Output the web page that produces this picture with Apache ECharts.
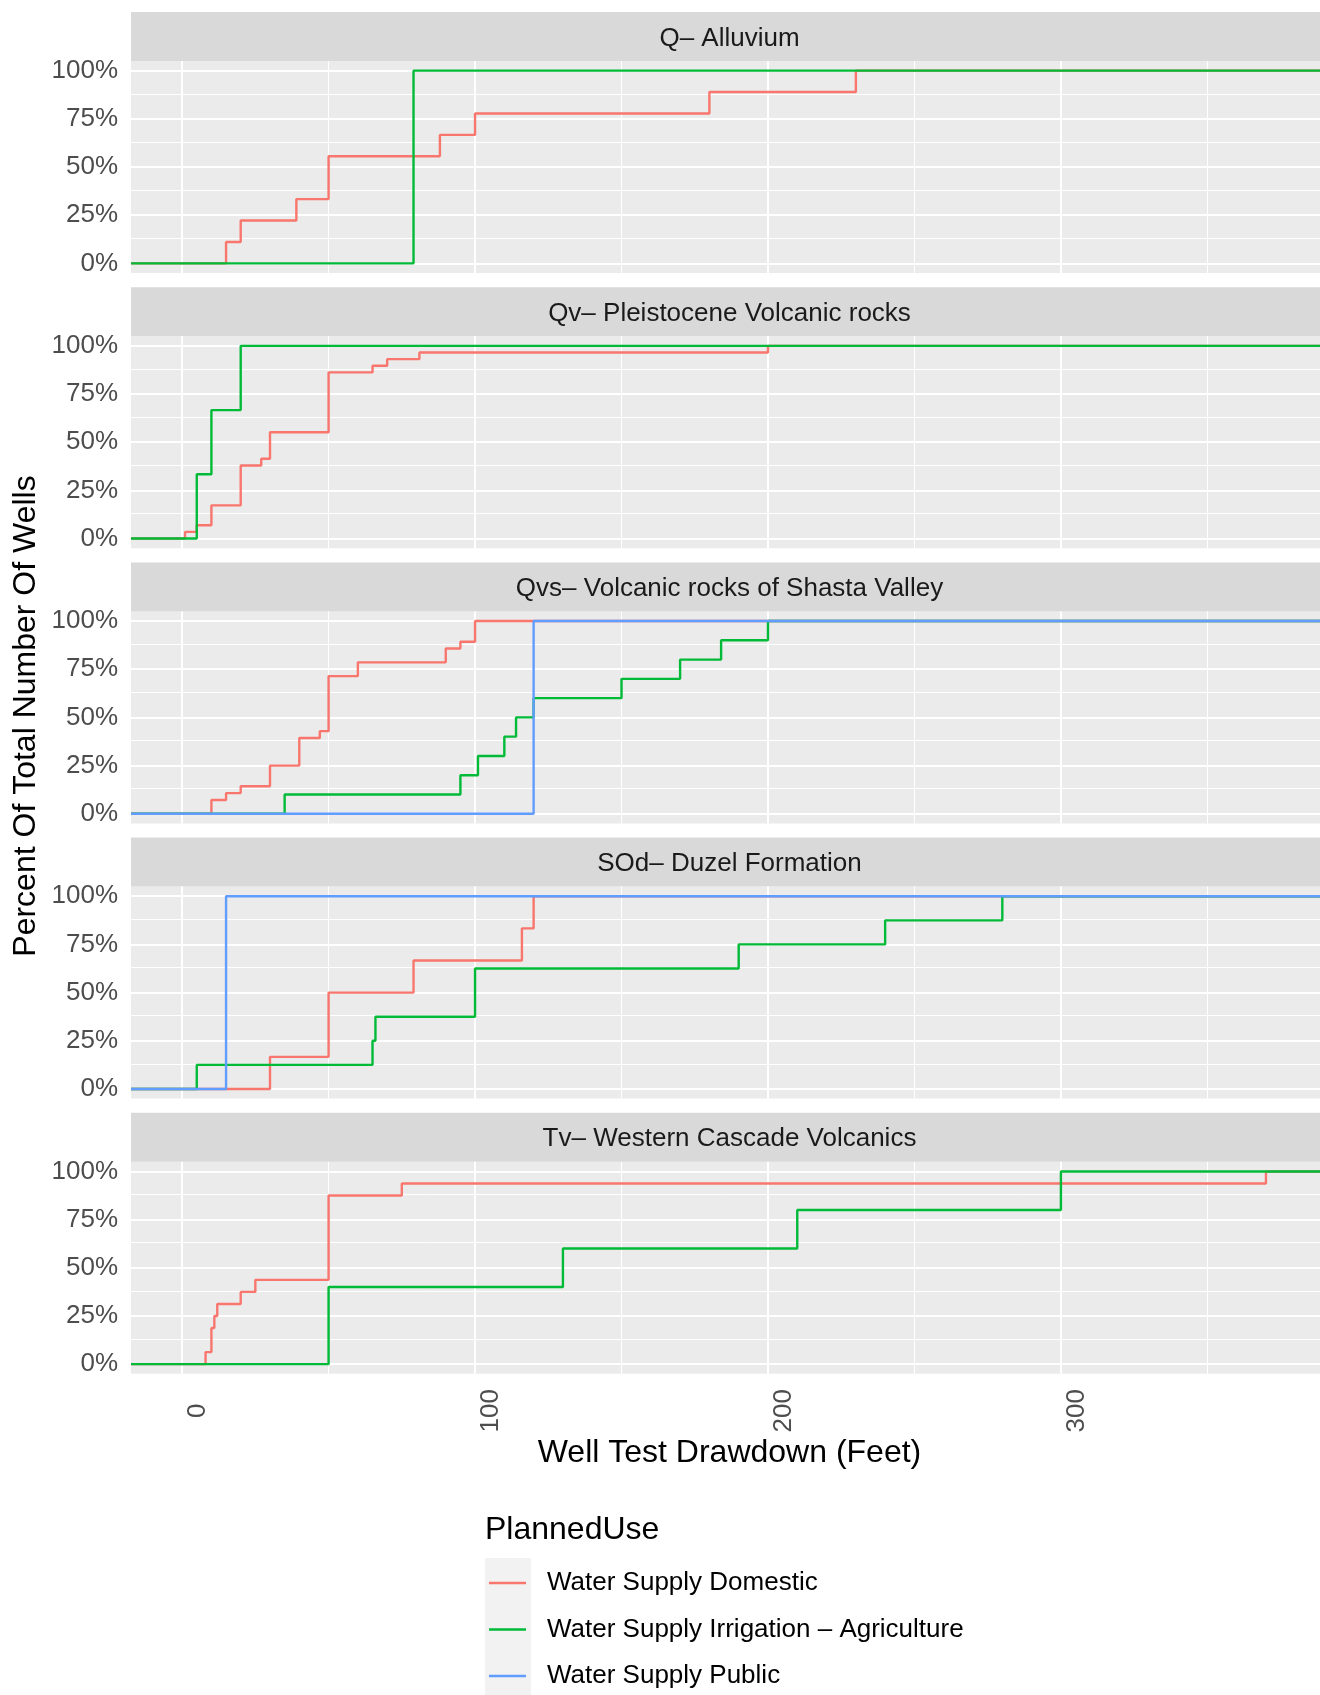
<!DOCTYPE html>
<html><head><meta charset="utf-8">
<script src="https://cdn.jsdelivr.net/npm/echarts@6/dist/echarts.min.js"></script>
<style>html,body{margin:0;padding:0;background:#fff}#c{width:1320px;height:1695px}</style>
</head><body><div id="c"></div>
<script>
// ---------------- data ----------------
const facetNames = [
  'Q\u2013 Alluvium',
  'Qv\u2013 Pleistocene Volcanic rocks',
  'Qvs\u2013 Volcanic rocks of Shasta Valley',
  'SOd\u2013 Duzel Formation',
  'Tv\u2013 Western Cascade Volcanics'
];
const useNames = ['Water Supply Domestic', 'Water Supply Irrigation \u2013 Agriculture', 'Water Supply Public'];
const useColors = ['#F8766D', '#00BA38', '#619CFF'];

// well test drawdown (feet) of each well, by formation and planned use
const Q_domestic   = [15, 20, 39, 50, 50, 88, 100, 180, 230];
const Q_irrigation = [79];
const Q_public     = [];

const Qv_domestic   = [1, 5, 10, 10, 10, 20, 20, 20, 20, 20, 20, 27, 30, 30, 30, 30,
                       50, 50, 50, 50, 50, 50, 50, 50, 50, 65, 70, 81, 200];
const Qv_irrigation = [5, 10, 20];
const Qv_public     = [];

const Qvs_domestic   = [10, 10, 15, 20, 30, 30, 30, 40, 40, 40, 40, 47,
                        50, 50, 50, 50, 50, 50, 50, 50, 60, 60, 90, 90, 95, 100, 100, 100];
const Qvs_irrigation = [35, 95, 101, 110, 114, 120, 150, 170, 184, 200];
const Qvs_public     = [120];

const SOd_domestic   = [30, 50, 50, 79, 116, 120];
const SOd_irrigation = [5, 65, 66, 100, 100, 190, 240, 280];
const SOd_public     = [15];

const Tv_domestic   = [8, 10, 10, 11, 12, 20, 25, 50, 50, 50, 50, 50, 50, 50, 75, 370];
const Tv_irrigation = [50, 50, 130, 210, 300];
const Tv_public     = [];

const facetData = [
  [Q_domestic, Q_irrigation, Q_public],
  [Qv_domestic, Qv_irrigation, Qv_public],
  [Qvs_domestic, Qvs_irrigation, Qvs_public],
  [SOd_domestic, SOd_irrigation, SOd_public],
  [Tv_domestic, Tv_irrigation, Tv_public]
];

const xMajor = [0, 100, 200, 300];
const xMinor = [50, 150, 250, 350];
const yMajor = [0, 0.25, 0.5, 0.75, 1];
const yMinor = [0.125, 0.375, 0.625, 0.875];
const xTickLabels = ['0', '100', '200', '300'];
const yTickLabels = ['0%', '25%', '50%', '75%', '100%'];

// ---------------- layout / style ----------------
const FONT = "'Liberation Sans', Arial, Helvetica, sans-serif";
const GRID_LEFT = 131, GRID_W = 1197;
const PANEL_TOP0 = 61, PANEL_STEP = 275.2, PANEL_H = 212, STRIP_H = 49;

// x scale limits (ggplot-like 5% expansion of the data range)
const allVals = facetData.flat(2);
const lo = Math.min(...allVals), hi = Math.max(...allVals);
const X_MIN = lo - 0.05 * (hi - lo), X_MAX = hi + 0.05 * (hi - lo);
const Y_MIN = -0.05, Y_MAX = 1.05;

function ecdf(vals) {
  const s = vals.slice().sort((a, b) => a - b);
  const n = s.length;
  const pts = [[X_MIN, 0]];
  for (let i = 0; i < n; i++) {
    if (i === n - 1 || s[i + 1] !== s[i]) pts.push([s[i], (i + 1) / n]);
  }
  pts.push([X_MAX, 1]);
  return pts;
}

const grids = [], xAxes = [], yAxes = [], series = [], graphics = [];
facetNames.forEach((name, i) => {
  const top = PANEL_TOP0 + PANEL_STEP * i;
  const last = i === facetNames.length - 1;
  grids.push({left: GRID_LEFT, top: top, width: GRID_W, height: PANEL_H,
              show: true, backgroundColor: '#EBEBEB', borderWidth: 0, containLabel: false});
  xAxes.push({
    type: 'value', gridIndex: i, min: X_MIN, max: X_MAX,
    axisLine: {show: false}, splitLine: {show: false},
    axisTick: {show: last, customValues: xMajor, length: 7, lineStyle: {color: '#333333', width: 1.8}},
    axisLabel: {show: last, customValues: xMajor, rotate: 90, margin: 37, align: 'center', verticalAlign: 'top',
                padding: [3, 0, 0, 0], color: '#4D4D4D', fontSize: 26, fontFamily: FONT,
                formatter: v => xTickLabels[xMajor.indexOf(v)] ?? String(v)}
  });
  yAxes.push({
    type: 'value', gridIndex: i, min: Y_MIN, max: Y_MAX,
    axisLine: {show: false}, splitLine: {show: false},
    axisTick: {show: true, customValues: yMajor, length: 7, lineStyle: {color: '#333333', width: 1.8}},
    axisLabel: {show: true, customValues: yMajor, margin: 13, color: '#4D4D4D', fontSize: 26, fontFamily: FONT,
                formatter: v => yTickLabels[yMajor.indexOf(v)] ?? ''}
  });
  // panel grid lines
  const gl = [];
  xMinor.forEach(v => gl.push({xAxis: v, lineStyle: {width: 1}}));
  yMinor.forEach(v => gl.push({yAxis: v, lineStyle: {width: 1}}));
  xMajor.forEach(v => gl.push({xAxis: v, lineStyle: {width: 2}}));
  yMajor.forEach(v => gl.push({yAxis: v, lineStyle: {width: 2}}));
  series.push({
    type: 'line', xAxisIndex: i, yAxisIndex: i, data: [], silent: true, z: 1,
    markLine: {silent: true, z: 1, symbol: ['none', 'none'], label: {show: false}, animation: false,
               lineStyle: {color: '#FFFFFF', type: 'solid'}, emphasis: {disabled: true}, data: gl}
  });
  facetData[i].forEach((vals, u) => {
    if (!vals.length) return;
    series.push({
      type: 'line', name: useNames[u], xAxisIndex: i, yAxisIndex: i,
      data: ecdf(vals), step: 'end', showSymbol: false, symbol: 'none', clip: true, z: 3 + u,
      lineStyle: {color: useColors[u], width: 2.4}, itemStyle: {color: useColors[u]},
      emphasis: {disabled: true}, animation: false
    });
  });
  // strip
  graphics.push({type: 'rect', silent: true, z: 0,
    shape: {x: GRID_LEFT, y: top - STRIP_H, width: GRID_W, height: STRIP_H},
    style: {fill: '#D9D9D9'}});
  graphics.push({type: 'text', silent: true, z: 1,
    x: GRID_LEFT + GRID_W / 2, y: top - STRIP_H / 2 + 2,
    style: {text: name, fill: '#1A1A1A', fontSize: 26, fontFamily: FONT,
            align: 'center', verticalAlign: 'middle', textAlign: 'center', textVerticalAlign: 'middle'}});
});

// axis titles
graphics.push({type: 'text', silent: true, x: GRID_LEFT + GRID_W / 2, y: 1453,
  style: {text: 'Well Test Drawdown (Feet)', fill: '#000', fontSize: 32, fontFamily: FONT,
          align: 'center', verticalAlign: 'middle', textAlign: 'center', textVerticalAlign: 'middle'}});
graphics.push({type: 'text', silent: true, x: 26, y: 716, rotation: Math.PI / 2,
  style: {text: 'Percent Of Total Number Of Wells', fill: '#000', fontSize: 32, fontFamily: FONT,
          align: 'center', verticalAlign: 'middle', textAlign: 'center', textVerticalAlign: 'middle'}});
// legend title & key background
graphics.push({type: 'text', silent: true, x: 485, y: 1530,
  style: {text: 'PlannedUse', fill: '#000', fontSize: 32, fontFamily: FONT,
          align: 'left', verticalAlign: 'middle', textAlign: 'left', textVerticalAlign: 'middle'}});
graphics.push({type: 'rect', silent: true, z: 0,
  shape: {x: 485, y: 1558, width: 46, height: 140}, style: {fill: '#F2F2F2'}});

const chart = echarts.init(document.getElementById('c'), null, {renderer: 'canvas'});
chart.setOption({
  backgroundColor: '#FFFFFF',
  animation: false,
  grid: grids, xAxis: xAxes, yAxis: yAxes, series: series,
  legend: {
    data: useNames, orient: 'vertical', left: 489, top: 1570, padding: 0, icon: 'rect',
    itemWidth: 37, itemHeight: 2.4, itemGap: 20.5, selectedMode: false, z: 5,
    textStyle: {fontSize: 26, color: '#000', fontFamily: FONT, lineHeight: 26, padding: [0, 0, 0, 16]}
  },
  graphic: {elements: graphics}
});
</script>
</body></html>
